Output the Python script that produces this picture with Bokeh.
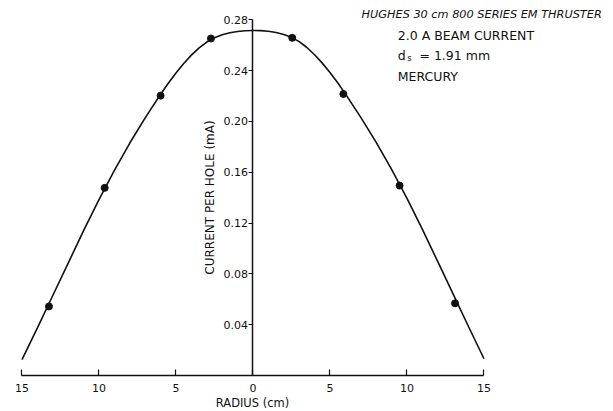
from bokeh.plotting import figure
from bokeh.models import Range1d, FixedTicker, Label
from bokeh.embed import file_html
from bokeh.resources import INLINE

# measured points (radius in cm, current per hole in mA)
radius_pts = [-13.25, -9.63, -6.0, -2.73, 2.55, 5.87, 9.52, 13.12]
current_pts = [0.0544, 0.1477, 0.2203, 0.2653, 0.2658, 0.2216, 0.1495, 0.0568]

# faired curve
curve_r = [-15, -14, -13, -12, -11, -10, -9, -8, -7,
           -6, -5.5, -5, -4.5, -4, -3.5, -3, -2.5, -2, -1.5, -1, -0.5, 0,
           0.5, 1, 1.5, 2, 2.5, 3, 3.5, 4, 4.5, 5, 5.5, 6,
           7, 8, 9, 10, 11, 12, 13, 14, 15]
curve_i = [0.0125, 0.0375, 0.0630, 0.0885, 0.1140, 0.1385, 0.1615, 0.1830, 0.2028,
           0.2214, 0.2300, 0.2382, 0.2456, 0.2522, 0.2579, 0.2625, 0.2659, 0.2683,
           0.2698, 0.2708, 0.2714, 0.2716,
           0.2715, 0.2710, 0.2700, 0.2685, 0.2662, 0.2628, 0.2582, 0.2525, 0.2459,
           0.2385, 0.2304, 0.2217,
           0.2032, 0.1835, 0.1623, 0.1394, 0.1150, 0.0896, 0.0640, 0.0384, 0.0132]

x_ticks = [-15, -10, -5, 0, 5, 10, 15]
x_tick_labels = ["15", "10", "5", "0", "5", "10", "15"]
y_ticks = [0.04, 0.08, 0.12, 0.16, 0.20, 0.24, 0.28]
y_tick_labels = ["0.04", "0.08", "0.12", "0.16", "0.20", "0.24", "0.28"]

INK = "#111111"
FONT = "DejaVu Sans"

p = figure(width=612, height=410,
           x_range=Range1d(-16.396, 23.345), y_range=Range1d(-0.02754, 0.29519),
           output_backend="svg", toolbar_location=None,
           min_border_left=0, min_border_right=0, min_border_top=0, min_border_bottom=0)
p.outline_line_color = None
p.grid.visible = False
p.background_fill_color = "white"
p.border_fill_color = "white"

# x axis drawn along zero current
xa = p.xaxis[0]
xa.fixed_location = 0
xa.ticker = FixedTicker(ticks=x_ticks)
xa.major_label_overrides = {t: l for t, l in zip(x_ticks, x_tick_labels)}
xa.bounds = (-15, 15)
xa.axis_line_color = INK
xa.axis_line_width = 1.6
xa.major_tick_line_color = INK
xa.major_tick_line_width = 1.2
xa.major_tick_in = 6
xa.major_tick_out = 0
xa.minor_tick_line_color = None
xa.major_label_text_font = FONT
xa.major_label_text_font_size = "11px"
xa.major_label_text_color = INK
xa.major_label_standoff = 8
xa.axis_label = "RADIUS (cm)"
xa.axis_label_text_font = FONT
xa.axis_label_text_font_size = "11.5px"
xa.axis_label_text_font_style = "normal"
xa.axis_label_text_color = INK
xa.axis_label_standoff = 1

# y axis drawn through r = 0
ya = p.yaxis[0]
ya.fixed_location = 0
ya.ticker = FixedTicker(ticks=y_ticks)
ya.major_label_overrides = {t: l for t, l in zip(y_ticks, y_tick_labels)}
ya.bounds = (0, 0.28)
ya.axis_line_color = INK
ya.axis_line_width = 1.5
ya.major_tick_line_color = INK
ya.major_tick_line_width = 1.2
ya.major_tick_in = 0
ya.major_tick_out = 4
ya.minor_tick_line_color = None
ya.major_label_text_font = FONT
ya.major_label_text_font_size = "11px"
ya.major_label_text_color = INK
ya.major_label_standoff = 1
ya.axis_label = "CURRENT PER HOLE (mA)"
ya.axis_label_text_font = FONT
ya.axis_label_text_font_size = "12px"
ya.axis_label_text_font_style = "normal"
ya.axis_label_text_color = INK
ya.axis_label_standoff = 3

p.line(curve_r, curve_i, line_color=INK, line_width=1.6)
p.scatter(radius_pts, current_pts, size=7, marker="circle",
          fill_color=INK, line_color=INK)

def lab(text, x, y, size="12.5px", style="normal"):
    p.add_layout(Label(x=x, y=y, text=text, text_font=FONT, text_font_size=size,
                       text_font_style=style, text_color=INK,
                       text_baseline="middle", text_align="left"))

lab("HUGHES 30 cm 800 SERIES EM THRUSTER", 7.045, 0.28417, size="11.3px", style="italic")
lab("2.0 A BEAM CURRENT", 9.403, 0.26765)
lab("d", 9.403, 0.25191)
lab("s", 10.02, 0.24955, size="8.5px")
lab("= 1.91 mm", 10.81, 0.25191)
lab("MERCURY", 9.403, 0.23538)

open("out.html", "w").write(file_html(p, INLINE))
